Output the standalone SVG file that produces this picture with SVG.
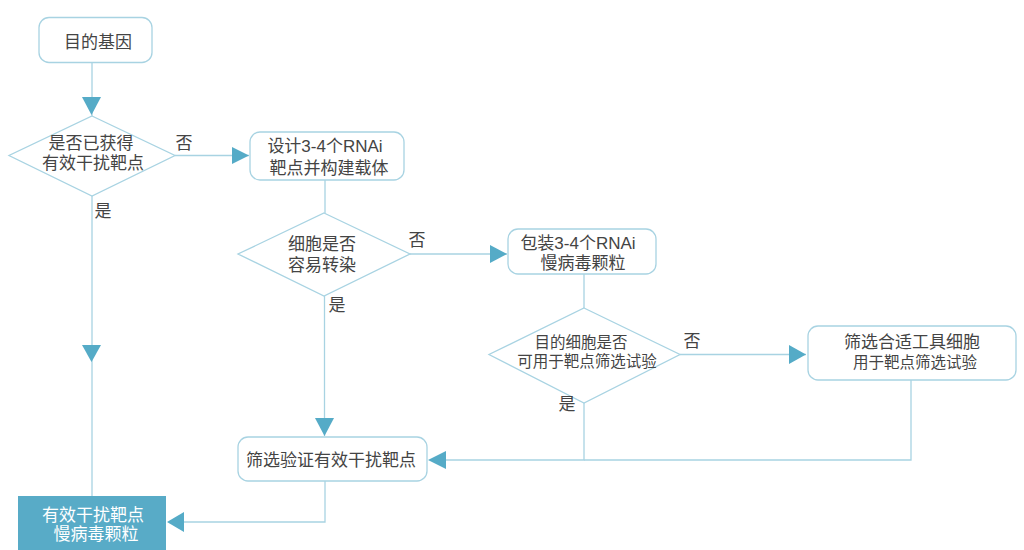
<svg xmlns="http://www.w3.org/2000/svg" width="1024" height="550" viewBox="0 0 1024 550">
<style>
.box{fill:#ffffff;stroke:#a8d3e2;stroke-width:1.3}
.dia{fill:#ffffff;stroke:#a8d3e2;stroke-width:1.3}
.ln{fill:none;stroke:#a8d3e2;stroke-width:1.3}
.ah{fill:#55abc7}
text{font-family:"Liberation Sans","Noto Sans CJK SC",sans-serif;font-size:17px;fill:#444444;text-anchor:middle;dominant-baseline:central}
.s{font-size:15.5px}
.w{fill:#ffffff}
</style>
<rect width="1024" height="550" fill="#ffffff"/>
<g id="connectors">
<line class="ln" x1="92" y1="62" x2="92" y2="116"/>
<polygon class="ah" points="82,97 101,97 91.5,115"/>
<line class="ln" x1="175" y1="155.5" x2="249" y2="155.5"/>
<polygon class="ah" points="232,147 232,164 249,155.5"/>
<line class="ln" x1="92" y1="196" x2="92" y2="496"/>
<polygon class="ah" points="82,345 101,345 91.5,362"/>
<line class="ln" x1="325" y1="180" x2="325" y2="213"/>
<line class="ln" x1="410" y1="254" x2="507" y2="254"/>
<polygon class="ah" points="490,245 490,263 507,254"/>
<line class="ln" x1="324.5" y1="296" x2="324.5" y2="436"/>
<polygon class="ah" points="315,418 334,418 324.5,436"/>
<line class="ln" x1="584" y1="274" x2="584" y2="308"/>
<line class="ln" x1="680" y1="354.5" x2="806" y2="354.5"/>
<polygon class="ah" points="789,345 789,364 806,354.5"/>
<polyline class="ln" points="584,403 584,460 446,460"/>
<polyline class="ln" points="911,380 911,460 584,460"/>
<polygon class="ah" points="446,451 446,469 428,460"/>
<polyline class="ln" points="325,481 325,522 184,522"/>
<polygon class="ah" points="184,512 184,532 167,522"/>
</g>
<g id="n1"><rect class="box" x="39" y="17.5" width="113" height="45" rx="10"/><text x="98" y="42">目的基因</text></g>
<g id="d1"><polygon class="dia" points="92,116 175,155.5 92,196 9,155.5"/><text x="91" y="143">是否已获得</text><text x="93" y="163">有效干扰靶点</text></g>
<g id="l1"><text x="184" y="143">否</text><text x="103" y="211">是</text></g>
<g id="n2"><rect class="box" x="250" y="132" width="154" height="48" rx="10"/><text x="325" y="146">设计3-4个RNAi</text><text x="329" y="168">靶点并构建载体</text></g>
<g id="d2"><polygon class="dia" points="324,213 410,254 324,296 238,254"/><text x="322" y="244">细胞是否</text><text x="322" y="265">容易转染</text></g>
<g id="l2"><text x="417" y="240">否</text><text x="337" y="305">是</text></g>
<g id="n3"><rect class="box" x="508" y="229" width="148" height="45" rx="10"/><text x="578" y="243">包装3-4个RNAi</text><text x="583" y="263">慢病毒颗粒</text></g>
<g id="d3"><polygon class="dia" points="584,308 680,354.5 584,403 489,354.5"/><text class="s" x="581" y="342">目的细胞是否</text><text class="s" x="587" y="361">可用于靶点筛选试验</text></g>
<g id="l3"><text x="692" y="341">否</text><text x="567" y="404">是</text></g>
<g id="n4"><rect class="box" x="808" y="326" width="208" height="54" rx="10"/><text x="912" y="342">筛选合适工具细胞</text><text class="s" x="915" y="362">用于靶点筛选试验</text></g>
<g id="n5"><rect class="box" x="238" y="437" width="189" height="44" rx="10"/><text x="331" y="460">筛选验证有效干扰靶点</text></g>
<g id="n6"><rect x="18" y="496" width="148" height="60" fill="#58abc7"/><text class="w" x="93" y="515">有效干扰靶点</text><text class="w" x="96" y="534">慢病毒颗粒</text></g>
</svg>
